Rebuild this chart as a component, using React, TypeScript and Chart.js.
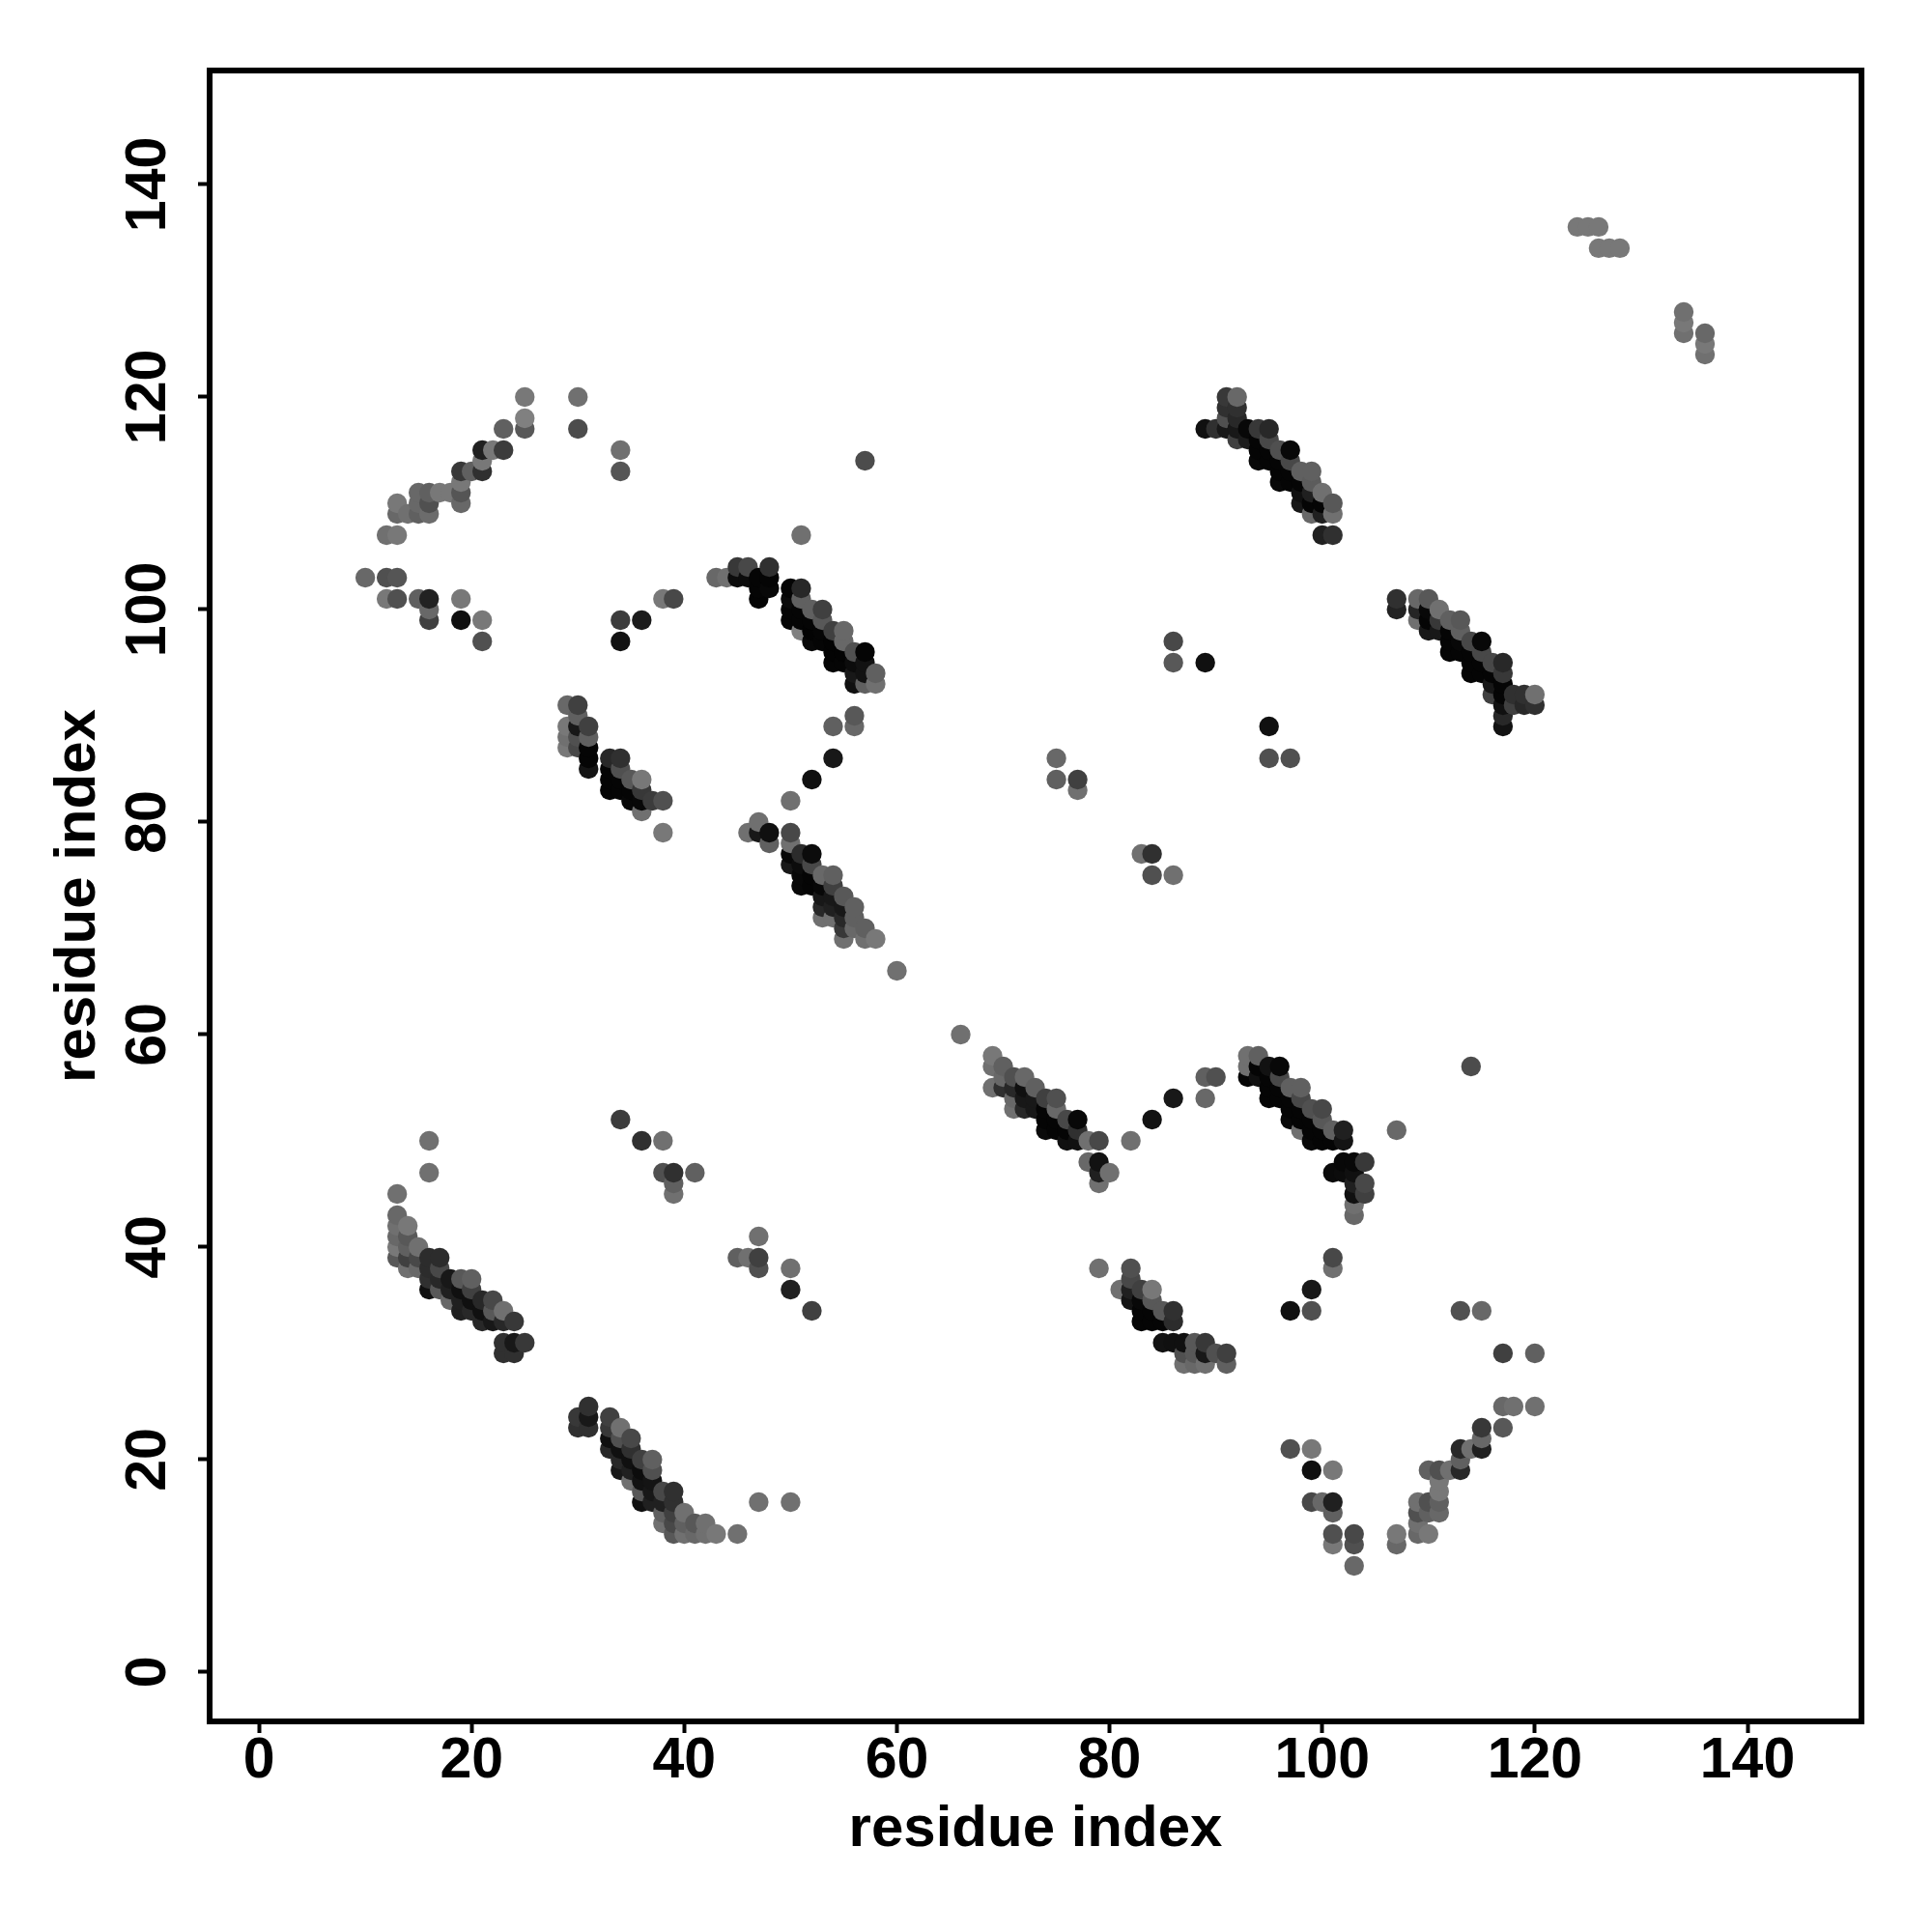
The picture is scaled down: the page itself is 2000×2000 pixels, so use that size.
import React, { useEffect, useRef } from "react";
import { Chart, registerables } from "chart.js";

Chart.register(...registerables);

type P = [number, number, number]; // residue x, residue y, grey level

const upperLeftArc: P[] = [
  [25,120,0x78],[30,120,0x70],[25,118,0x80],[25,117,0x58],[23,117,0x60],[30,117,0x4c],[21,115,0x20],[22,115,0x78],[23,115,0x3c],
  [21,114,0x78],[21,113,0x30],[19,113,0x38],[20,113,0x60],[19,112,0x78],[19,111,0x55],[19,110,0x68],[15,111,0x68],[16,111,0x60],
  [17,111,0x78],[18,111,0x78],[13,110,0x78],[15,110,0x68],[16,110,0x50],[13,109,0x68],[14,109,0x70],[15,109,0x60],[16,109,0x6c],
  [12,107,0x70],[13,107,0x78],[10,103,0x68],[12,103,0x50],[13,103,0x55],[12,101,0x78],[13,101,0x50],[15,101,0x60],[16,101,0x22],
  [16,100,0x68],[16,99,0x40],[19,101,0x78],[19,99,0x10],[21,99,0x78],[21,97,0x50],[34,115,0x70],[34,113,0x55],[34,99,0x3c],
  [36,99,0x1c],[34,97,0x12],[38,101,0x78],[39,101,0x48],
];

const strandTop: P[] = [
  [43,103,0x68],[44,103,0x70],[45,104,0x38],[46,104,0x48],[48,104,0x30],[45,103,0x0c],[46,103,0x0c],[47,103,0x05],[48,103,0x05],
  [47,102,0x05],[48,102,0x08],[47,101,0x04],[50,102,0x05],[51,102,0x28],[51,101,0x60],[50,101,0x0a],[50,100,0x05],[51,100,0x05],
  [52,100,0x60],[53,100,0x40],[50,99,0x05],[51,99,0x05],[52,99,0x05],[53,99,0x58],[51,98,0x80],[52,98,0x03],[53,98,0x05],[54,98,0x40],
  [55,98,0x68],[52,97,0x08],[53,97,0x05],[54,97,0x03],[55,97,0x68],[54,96,0x03],[55,96,0x03],[56,96,0x50],[57,96,0x05],[54,95,0x05],
  [55,95,0x05],[56,95,0x0c],[57,95,0x12],[56,94,0x18],[57,94,0x12],[58,94,0x60],[56,93,0x10],[57,93,0x60],[58,93,0x70],
  [51,107,0x70],[57,114,0x4c],
];

const strandLeft: P[] = [
  [29,91,0x68],[30,91,0x40],[30,90,0x60],[29,89,0x78],[30,89,0x18],[31,89,0x40],[29,88,0x70],[30,88,0x50],[31,88,0x60],[29,87,0x78],
  [30,87,0x48],[31,87,0x05],[31,86,0x05],[31,85,0x14],[33,86,0x28],[34,86,0x30],[33,85,0x05],[34,85,0x50],[33,84,0x05],[34,84,0x05],
  [35,84,0x58],[36,84,0x78],[33,83,0x05],[34,83,0x05],[35,83,0x05],[36,83,0x38],[35,82,0x08],[36,82,0x08],[37,82,0x3c],[38,82,0x50],
  [36,81,0x70],[38,79,0x78],
];

const strandMiddle: P[] = [
  [54,89,0x60],[56,90,0x58],[56,89,0x68],[54,86,0x18],[52,84,0x10],[50,82,0x70],[47,80,0x70],[46,79,0x70],[47,79,0x18],[48,79,0x10],
  [48,78,0x60],[50,79,0x48],[50,78,0x70],[52,77,0x0c],[51,77,0x2c],[50,77,0x08],[50,76,0x18],[51,76,0x0c],[52,76,0x48],[51,75,0x08],
  [52,75,0x05],[53,75,0x68],[54,75,0x60],[51,74,0x08],[52,74,0x05],[53,74,0x08],[54,74,0x40],[53,73,0x18],[54,73,0x18],[55,73,0x58],
  [53,72,0x28],[54,72,0x20],[55,72,0x18],[56,72,0x60],[53,71,0x70],[54,71,0x70],[55,71,0x28],[56,71,0x60],[55,70,0x38],[56,70,0x68],
  [57,70,0x60],[55,69,0x70],[57,69,0x70],[58,69,0x78],[60,66,0x70],[66,60,0x70],
];

const strandUpperCentre: P[] = [
  [91,120,0x38],[92,120,0x68],[91,119,0x30],[92,119,0x30],[91,118,0x50],[92,118,0x28],[89,117,0x10],[90,117,0x30],[91,117,0x18],
  [92,117,0x18],[93,117,0x08],[94,117,0x38],[95,117,0x28],[92,116,0x40],[93,116,0x1c],[94,116,0x05],[95,116,0x48],[94,115,0x05],
  [95,115,0x05],[96,115,0x50],[97,115,0x08],[94,114,0x08],[95,114,0x05],[96,114,0x05],[97,114,0x48],[96,113,0x05],[97,113,0x05],
  [98,113,0x60],[99,113,0x60],[96,112,0x08],[97,112,0x05],[98,112,0x05],[99,112,0x5c],[98,111,0x10],[99,111,0x20],[100,111,0x70],
  [98,110,0x18],[99,110,0x05],[100,110,0x05],[101,110,0x58],[99,109,0x68],[100,109,0x20],[101,109,0x70],[100,107,0x20],[101,107,0x30],
];

const strandRight: P[] = [
  [107,101,0x30],[107,100,0x22],[109,101,0x68],[110,101,0x58],[109,100,0x25],[110,100,0x08],[111,100,0x70],[109,99,0x70],[110,99,0x05],
  [111,99,0x38],[112,99,0x60],[113,99,0x58],[110,98,0x18],[111,98,0x18],[112,98,0x05],[113,98,0x60],[112,97,0x05],[113,97,0x08],
  [114,97,0x48],[115,97,0x08],[112,96,0x05],[113,96,0x05],[114,96,0x05],[115,96,0x48],[114,95,0x05],[115,95,0x05],[116,95,0x48],
  [117,95,0x28],[114,94,0x05],[115,94,0x05],[116,94,0x05],[117,94,0x38],[116,93,0x18],[117,93,0x05],[116,92,0x40],[117,92,0x05],
  [118,92,0x30],[119,92,0x30],[120,92,0x70],[117,91,0x10],[118,91,0x40],[119,91,0x28],[120,91,0x30],[117,90,0x28],[117,89,0x12],
];

const strandCentreA: P[] = [
  [69,58,0x78],[69,57,0x70],[70,57,0x60],[70,56,0x68],[69,55,0x70],[70,55,0x30],[71,56,0x50],[72,56,0x68],[71,55,0x28],[72,55,0x10],
  [73,55,0x60],[71,54,0x68],[72,54,0x18],[73,54,0x18],[74,54,0x40],[75,54,0x50],[71,53,0x70],[72,53,0x28],[73,53,0x18],[74,53,0x05],
  [75,53,0x68],[74,52,0x05],[75,52,0x05],[76,52,0x48],[77,52,0x08],[74,51,0x0a],[75,51,0x05],[76,51,0x05],[77,51,0x30],[76,50,0x10],
  [77,50,0x10],[78,50,0x70],[79,50,0x48],[82,50,0x70],[84,52,0x12],[86,54,0x18],[78,48,0x68],[79,48,0x12],[79,47,0x20],[80,47,0x70],
  [79,46,0x70],[89,54,0x68],[89,56,0x60],[90,56,0x50],
];

const strandCentreB: P[] = [
  [93,58,0x70],[94,58,0x60],[93,57,0x70],[94,57,0x05],[95,57,0x12],[96,57,0x08],[93,56,0x05],[94,56,0x10],[95,56,0x05],[96,56,0x48],
  [95,55,0x05],[96,55,0x05],[97,55,0x60],[98,55,0x60],[95,54,0x05],[96,54,0x05],[97,54,0x05],[98,54,0x48],[97,53,0x05],[98,53,0x05],
  [99,53,0x50],[100,53,0x48],[97,52,0x08],[98,52,0x05],[99,52,0x05],[100,52,0x58],[98,51,0x70],[99,51,0x05],[100,51,0x05],[101,51,0x60],
  [102,51,0x20],[99,50,0x08],[100,50,0x05],[101,50,0x05],[102,50,0x14],[102,48,0x08],[103,48,0x08],[104,48,0x38],[101,47,0x0a],
  [102,47,0x0c],[103,47,0x10],[103,46,0x20],[104,46,0x48],[103,45,0x10],[104,45,0x40],[103,44,0x70],[103,43,0x68],[107,51,0x68],[114,57,0x4c],
];

const strandLowerLeft: P[] = [
  [13,45,0x70],[13,43,0x68],[13,42,0x70],[14,42,0x78],[13,41,0x68],[14,41,0x58],[13,40,0x78],[14,40,0x60],[15,40,0x70],[13,39,0x58],
  [14,39,0x40],[15,39,0x48],[16,39,0x2c],[17,39,0x2c],[14,38,0x70],[15,38,0x68],[16,38,0x2c],[17,38,0x48],[16,37,0x30],[17,37,0x28],
  [18,37,0x18],[19,37,0x58],[20,37,0x60],[16,36,0x10],[17,36,0x58],[18,36,0x20],[19,36,0x10],[20,36,0x40],[18,35,0x68],[19,35,0x20],
  [20,35,0x10],[21,35,0x28],[22,35,0x48],[19,34,0x20],[20,34,0x28],[21,34,0x10],[22,34,0x58],[23,34,0x70],[21,33,0x28],[22,33,0x18],
  [23,33,0x28],[24,33,0x38],[23,31,0x30],[24,31,0x18],[25,31,0x38],[23,30,0x30],[24,30,0x30],[16,50,0x70],[16,47,0x70],
];

const strandBottomLeft: P[] = [
  [31,25,0x30],[30,24,0x38],[31,24,0x18],[30,23,0x30],[31,23,0x30],[33,24,0x40],[33,23,0x38],[34,23,0x70],[33,22,0x10],[34,22,0x50],
  [35,22,0x48],[33,21,0x28],[34,21,0x10],[35,21,0x30],[34,20,0x28],[35,20,0x10],[36,20,0x40],[37,20,0x60],[34,19,0x18],[35,19,0x20],
  [36,19,0x0c],[37,19,0x50],[35,18,0x70],[36,18,0x12],[37,18,0x14],[36,17,0x58],[37,17,0x18],[38,17,0x48],[39,17,0x30],[36,16,0x10],
  [37,16,0x20],[38,16,0x20],[39,16,0x30],[38,15,0x60],[39,15,0x40],[40,15,0x70],[38,14,0x70],[39,14,0x48],[40,14,0x60],[41,14,0x58],
  [42,14,0x70],[39,13,0x58],[40,13,0x70],[41,13,0x68],[42,13,0x70],[43,13,0x78],[45,13,0x70],[47,16,0x70],[50,16,0x70],
];

const strandLowerCentre: P[] = [
  [79,38,0x70],[82,38,0x50],[82,37,0x48],[81,36,0x70],[82,36,0x20],[83,36,0x40],[84,36,0x78],[82,35,0x14],[83,35,0x08],[84,35,0x58],
  [83,34,0x05],[84,34,0x05],[85,34,0x58],[86,34,0x30],[83,33,0x05],[84,33,0x05],[85,33,0x05],[86,33,0x2c],[85,31,0x12],[86,31,0x10],
  [87,31,0x10],[88,31,0x58],[89,31,0x38],[87,30,0x50],[88,30,0x58],[89,30,0x18],[90,30,0x50],[91,30,0x40],[87,29,0x70],[88,29,0x68],
  [89,29,0x70],[91,29,0x60],
];

const lowerRightArc: P[] = [
  [97,21,0x50],[99,21,0x78],[99,19,0x10],[101,19,0x78],[99,16,0x48],[100,16,0x68],[101,16,0x20],[101,15,0x60],[101,13,0x50],[101,12,0x78],
  [103,13,0x48],[103,12,0x50],[103,10,0x68],[107,13,0x78],[107,12,0x68],[109,16,0x70],[110,16,0x50],[111,16,0x60],[109,15,0x50],
  [110,15,0x60],[111,15,0x68],[109,14,0x70],[109,13,0x68],[110,13,0x78],[111,18,0x78],[111,17,0x78],[110,19,0x60],[111,19,0x50],
  [112,19,0x70],[113,19,0x28],[113,20,0x60],[113,21,0x28],[114,21,0x70],[115,23,0x38],[115,22,0x68],[115,21,0x20],[117,23,0x58],
  [117,25,0x68],[118,25,0x70],[120,25,0x70],[117,30,0x40],[120,30,0x60],[113,34,0x50],[115,34,0x68],
];

const scattered: P[] = [
  [97,34,0x10],[99,34,0x50],[99,36,0x18],[101,38,0x70],[101,39,0x48],[34,52,0x3c],[36,50,0x30],[38,50,0x70],[38,47,0x50],[39,47,0x30],
  [39,46,0x60],[39,45,0x70],[41,47,0x60],[45,39,0x60],[46,39,0x70],[47,39,0x40],[47,41,0x70],[47,38,0x50],[50,38,0x70],[50,36,0x20],
  [52,34,0x40],[75,86,0x68],[75,84,0x60],[77,84,0x40],[77,83,0x70],[83,77,0x70],[84,77,0x30],[84,75,0x50],[86,75,0x70],[86,97,0x48],
  [86,95,0x58],[89,95,0x10],[95,89,0x10],[95,86,0x50],[97,86,0x50],
];

const upperRight: P[] = [
  [124,136,0x78],[125,136,0x78],[126,136,0x78],[126,134,0x78],[127,134,0x78],[128,134,0x78],[134,128,0x70],[134,127,0x78],[134,126,0x70],
  [136,126,0x68],[136,125,0x78],[136,124,0x70],
];

const axisTitle = "residue index";
const axisMin = -4.64;
const axisMax = 150.72;

const allPoints: P[] = [
  ...upperLeftArc, ...strandTop, ...strandLeft, ...strandMiddle, ...strandUpperCentre, ...strandRight, ...strandCentreA,
  ...strandCentreB, ...strandLowerLeft, ...strandBottomLeft, ...strandLowerCentre, ...lowerRightArc, ...scattered, ...upperRight,
].sort((a, b) => a[0] - b[0] || a[1] - b[1]);

const FONT = "'Liberation Sans', Arial, sans-serif";

export default function App() {
  const ref = useRef<HTMLCanvasElement>(null);
  useEffect(() => {
    const frame = {
      id: "frame",
      afterDraw(c: any) {
        const { left, right, top, bottom } = c.chartArea;
        const g = c.ctx;
        g.save();
        g.strokeStyle = "#000";
        g.lineWidth = 6;
        g.strokeRect(left, top, right - left, bottom - top);
        g.restore();
      },
    };
    const axis = (rot: number, titlePad: any, tickPad: number, fit: (s: any) => void) => ({
      type: "linear" as const,
      min: axisMin,
      max: axisMax,
      afterFit: fit,
      border: { display: false },
      grid: { display: true, drawOnChartArea: false, drawTicks: true, tickLength: 12, tickWidth: 4, tickColor: "#000" },
      ticks: {
        stepSize: 20,
        includeBounds: false,
        color: "#000",
        padding: tickPad,
        minRotation: rot,
        maxRotation: rot,
        crossAlign: rot ? ("center" as const) : ("near" as const),
        font: { family: FONT, size: 59, weight: "bold" as const },
      },
      title: {
        display: true,
        text: axisTitle,
        color: "#000",
        padding: titlePad,
        font: { family: FONT, size: 60, weight: "bold" as const },
      },
    });
    const chart = new Chart(ref.current!, {
      type: "scatter",
      data: {
        datasets: [
          {
            data: allPoints.map((p) => ({ x: p[0], y: p[1] })),
            pointRadius: 10.2,
            pointBorderWidth: 0,
            pointHoverRadius: 10.2,
            pointBackgroundColor: allPoints.map((p) => `rgb(${p[2]},${p[2]},${p[2]})`),
          },
        ],
      },
      options: {
        responsive: false,
        animation: false,
        layout: { padding: { top: 73, right: 73, left: 0, bottom: 0 } },
        plugins: { legend: { display: false }, tooltip: { enabled: false } },
        scales: {
          x: axis(0, { top: 0, bottom: 70 }, -6, (s: any) => { s.height = 218; }),
          y: axis(90, { top: 45, bottom: 0 }, 1, (s: any) => { s.width = 217; }),
        },
      },
      plugins: [frame],
    } as any);
    return () => chart.destroy();
  }, []);
  return (
    <div style={{ position: "absolute", left: 0, top: 0, width: 2000, height: 2000, background: "#fff" }}>
      <canvas ref={ref} width={2000} height={2000} style={{ display: "block" }} />
    </div>
  );
}
